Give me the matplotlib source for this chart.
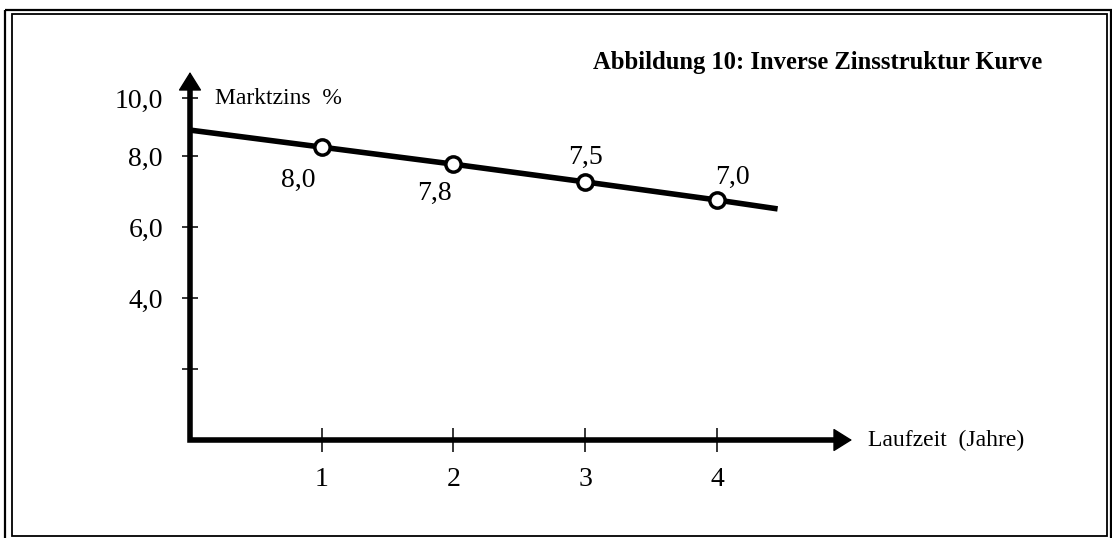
import matplotlib
matplotlib.use("Agg")
import matplotlib.pyplot as plt
from matplotlib.patches import Rectangle

plt.rcParams['font.family'] = ['Liberation Serif', 'DejaVu Serif']

# Laufzeit in Jahren und Lage der Punkte auf der (schematischen) Zinsachse
years = [1, 2, 3, 4]
rate_marks = [8.25, 7.77, 7.27, 6.76]
rate_labels = ["8,0", "7,8", "7,5", "7,0"]

# Verlauf der Kurve (beginnt an der y-Achse, läuft rechts über Jahr 4 hinaus)
curve_x = [0, 1, 2, 3, 4, 4.46]
curve_y = [8.73, 8.25, 7.77, 7.27, 6.76, 6.51]

y_ticks = [2, 4, 6, 8, 9.63]
y_tick_labels = ["", "4,0", "6,0", "8,0", "10,0"]
x_ticks = [1, 2, 3, 4]
x_tick_labels = ["1", "2", "3", "4"]

title = "Abbildung 10: Inverse Zinsstruktur Kurve"
y_title = "Marktzins  %"
x_title = "Laufzeit  (Jahre)"

W, H = 1112, 538
fig = plt.figure(figsize=(W / 100, H / 100), dpi=100)

# doppelter Rahmen, in Pixelkoordinaten
bg = fig.add_axes([0, 0, 1, 1])
bg.set_xlim(0, W)
bg.set_ylim(H, 0)
bg.axis('off')
bg.add_patch(Rectangle((5, 9.5), 1105.5, 540, fill=False, lw=1.6, ec='black'))
bg.add_patch(Rectangle((11.5, 13.8), 1095.5, 522, fill=False, lw=1.3, ec='black'))

# Diagrammfläche: x 0..5 -> 131.75 px je Jahr, y 0..10.5 -> 35.5 px je Prozentpunkt
px_x, px_y = 131.75, 35.5
ox, oy = 190, 440
ax = fig.add_axes([ox / W, (H - oy) / H, 5 * px_x / W, 10.5 * px_y / H])
ax.set_xlim(0, 5)
ax.set_ylim(0, 10.5)
ax.patch.set_visible(False)
for s in ax.spines.values():
    s.set_visible(False)

# Achsen mit Pfeilspitzen
x_tip = (852 - ox) / px_x
y_tip = (oy - 72) / px_y
ax.plot([0, 0, x_tip - 0.1], [y_tip - 0.3, 0, 0], color='black', lw=4,
        solid_joinstyle='miter', solid_capstyle='butt', clip_on=False, zorder=3)
arrow = dict(arrowstyle='-|>,head_length=0.4,head_width=0.25', color='black',
             lw=1, mutation_scale=30, shrinkA=0, shrinkB=0)
ax.annotate('', xy=(x_tip, 0), xytext=(x_tip - 0.3, 0), arrowprops=arrow,
            annotation_clip=False)
ax.annotate('', xy=(0, y_tip), xytext=(0, y_tip - 1), arrowprops=arrow,
            annotation_clip=False)

ax.set_xticks(x_ticks)
ax.set_xticklabels(x_tick_labels)
ax.set_yticks(y_ticks)
ax.set_yticklabels(y_tick_labels)
ax.tick_params(axis='x', direction='inout', length=17, width=1.1, pad=11, labelsize=20)
ax.tick_params(axis='y', direction='inout', length=11, width=1.1, pad=14, labelsize=20)

# Kurve und Punkte
ax.plot(curve_x, curve_y, color='black', lw=4, solid_capstyle='butt',
        clip_on=False, zorder=4)
ax.plot(years, rate_marks, linestyle='none', marker='o', markersize=11,
        markerfacecolor='white', markeredgecolor='black', markeredgewidth=2.5,
        clip_on=False, zorder=5)

label_offsets = [(-17, -24), (-14, -21), (0, 18), (11, 16)]
for x, y, lab, off in zip(years, rate_marks, rate_labels, label_offsets):
    ax.annotate(lab, (x, y), xytext=off, textcoords='offset points',
                ha='center', va='center', fontsize=20)

ax.text((215 - ox) / px_x, (oy - 98) / px_y, y_title, ha='left', va='center',
        fontsize=17)
ax.text((868 - ox) / px_x, 0, x_title, ha='left', va='center', fontsize=17)

fig.text(1042 / W, 1 - 63 / H, title, ha='right', va='center', fontsize=17.7,
         fontweight='bold')

fig.savefig('out.png', dpi=100)
